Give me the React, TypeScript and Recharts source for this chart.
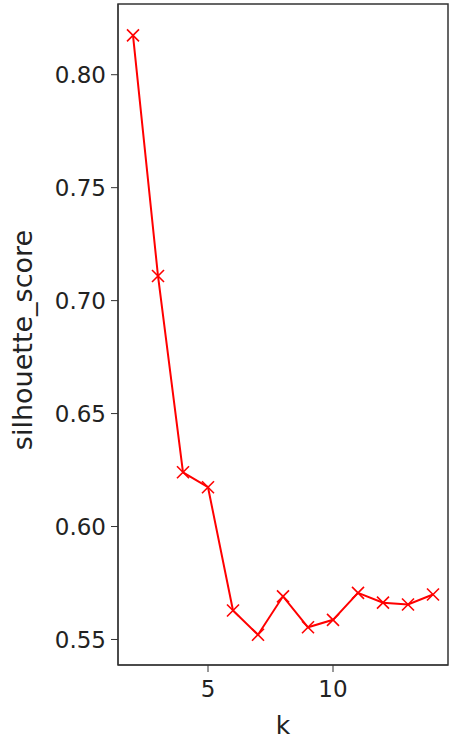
import React from 'react';
import {
  LineChart,
  Line,
  XAxis,
  YAxis,
  ReferenceArea,
  Label,
} from 'recharts';

const kValues = [2, 3, 4, 5, 6, 7, 8, 9, 10, 11, 12, 13, 14];
const silhouetteScores = [
  0.8174, 0.7109, 0.624, 0.6174, 0.5628, 0.5521, 0.5691, 0.5554, 0.5587, 0.5706,
  0.5663, 0.5655, 0.5699,
];
const xTicks = [5, 10];
const yTicks = [0.55, 0.6, 0.65, 0.7, 0.75, 0.8];

const data = kValues.map((k, i) => ({ k, score: silhouetteScores[i] }));

const FONT = '"DejaVu Sans", sans-serif';
const RED = '#ff0000';
const AXIS = '#333333';

const XMarker = (props: any) => {
  const { cx, cy } = props;
  if (cx == null || cy == null) return null;
  const r = 6;
  return (
    <g stroke={RED} strokeWidth={1.6}>
      <line x1={cx - r} y1={cy - r} x2={cx + r} y2={cy + r} />
      <line x1={cx - r} y1={cy + r} x2={cx + r} y2={cy - r} />
    </g>
  );
};

const App: React.FC = () => {
  return (
    <div style={{ position: 'absolute', left: 0, top: 0, background: '#fff' }}>
      <LineChart
        width={449}
        height={741}
        data={data}
        margin={{ top: 4, right: 1, bottom: 0, left: 0 }}
      >
        <ReferenceArea
          x1={1.4}
          x2={14.6}
          y1={0.5387}
          y2={0.8313}
          fill="none"
          stroke={AXIS}
          strokeWidth={1.5}
          strokeOpacity={1}
        />
        <XAxis
          dataKey="k"
          type="number"
          domain={[1.4, 14.6]}
          ticks={xTicks}
          allowDataOverflow
          height={76}
          stroke={AXIS}
          tickSize={7}
          tickMargin={9}
          tick={{ fill: '#222', fontSize: 23, fontFamily: FONT }}
        >
          <Label
            value="k"
            position="insideBottom"
            offset={7}
            style={{ fill: '#222', fontSize: 25, fontFamily: FONT }}
          />
        </XAxis>
        <YAxis
          type="number"
          domain={[0.5387, 0.8313]}
          ticks={yTicks}
          allowDataOverflow
          width={118}
          stroke={AXIS}
          tickSize={7}
          tickMargin={5}
          tickFormatter={(v: number) => v.toFixed(2)}
          tick={{ fill: '#222', fontSize: 23, fontFamily: FONT }}
        >
          <Label
            content={() => (
              <text
                x={32}
                y={340}
                transform="rotate(-90 32 340)"
                textAnchor="middle"
                fill="#222"
                fontSize={27}
                fontFamily={FONT}
              >
                silhouette_score
              </text>
            )}
          />
        </YAxis>
        <Line
          type="linear"
          dataKey="score"
          stroke={RED}
          strokeWidth={2}
          dot={<XMarker />}
          activeDot={false}
          isAnimationActive={false}
        />
      </LineChart>
    </div>
  );
};

export default App;
